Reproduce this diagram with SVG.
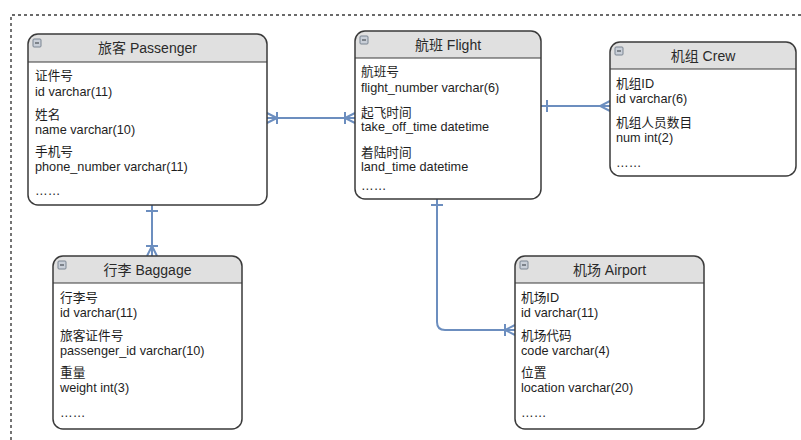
<svg xmlns="http://www.w3.org/2000/svg" width="801" height="440" viewBox="0 0 801 440">
  <style>
    .frame { fill: none; stroke: #3a3a3a; stroke-width: 1.5; }
    .body { fill: #ffffff; }
    .head { fill: #e0e0e0; }
    .sep { stroke: #3a3a3a; stroke-width: 1.2; }
    .title { font-family: "Liberation Sans", "Noto Sans CJK SC", sans-serif; font-size: 14px; fill: #2a2a2a; text-anchor: middle; }
    .attr { font-family: "Liberation Sans", "Noto Sans CJK SC", sans-serif; font-size: 12.7px; fill: #1e1e1e; }
    .link { fill: none; stroke: #6c8ebf; stroke-width: 2; }
    .tip { fill: none; stroke: #6c8ebf; stroke-width: 2; }
    .border { fill: none; stroke: #3a3a3a; stroke-width: 1.4; stroke-dasharray: 3 3; }
  </style>
  <defs>
    <!-- collapse button shown in each table header -->
    <g id="collapse">
      <rect x="0" y="0" width="8" height="8" rx="1" fill="#c9cfd8" stroke="#7b8592" stroke-width="1"/>
      <line x1="2" y1="4" x2="6" y2="4" stroke="#4a4f57" stroke-width="1.2"/>
    </g>
    <!-- ER end markers -->
    <marker id="one" viewBox="-12 -8 14 16" markerWidth="14" markerHeight="16" refX="0" refY="0" orient="auto-start-reverse" markerUnits="userSpaceOnUse">
      <path class="tip" d="M-6,-6 V6"/>
    </marker>
    <marker id="many" viewBox="-12 -8 14 16" markerWidth="14" markerHeight="16" refX="0" refY="0" orient="auto-start-reverse" markerUnits="userSpaceOnUse">
      <path class="tip" d="M0,-5 L-10,0 L0,5"/>
    </marker>
    <marker id="oneMany" viewBox="-14 -8 16 16" markerWidth="16" markerHeight="16" refX="0" refY="0" orient="auto-start-reverse" markerUnits="userSpaceOnUse">
      <path class="tip" d="M0,-5 L-10,0 L0,5 M-10,-6 V6"/>
    </marker>
  </defs>

  <!-- dashed boundary -->
  <path class="border" d="M11,440 V15 H801"/>

  <!-- relationships -->
  <g id="connectors">
    <path class="link" d="M267,118 H355" marker-start="url(#oneMany)" marker-end="url(#oneMany)"/>
    <path class="link" d="M541,106 H610" marker-start="url(#one)" marker-end="url(#many)"/>
    <path class="link" d="M152,205 V256" marker-start="url(#one)" marker-end="url(#oneMany)"/>
    <path class="link" d="M437,199 V322 Q437,330 445,330 H515" marker-start="url(#one)" marker-end="url(#oneMany)"/>
  </g>

  <g id="passenger">
    <rect class="body" x="28" y="34" width="239" height="171" rx="10"/>
    <path class="head" d="M28,62 V44 A10,10 0 0 1 38,34 H257 A10,10 0 0 1 267,44 V62 Z"/>
    <line class="sep" x1="28" y1="62" x2="267" y2="62"/>
    <rect class="frame" x="28" y="34" width="239" height="171" rx="10"/>
    <use href="#collapse" x="33" y="39"/>
    <text class="title" x="147.5" y="53">旅客 Passenger</text>
    <text class="attr" x="35" y="80">证件号</text>
    <text class="attr" x="35" y="96">id varchar(11)</text>
    <text class="attr" x="35" y="119">姓名</text>
    <text class="attr" x="35" y="134">name varchar(10)</text>
    <text class="attr" x="35" y="156">手机号</text>
    <text class="attr" x="35" y="171">phone_number varchar(11)</text>
    <text class="attr" x="35" y="195">……</text>
  </g>

  <g id="flight">
    <rect class="body" x="355" y="31" width="186" height="168" rx="10"/>
    <path class="head" d="M355,58 V41 A10,10 0 0 1 365,31 H531 A10,10 0 0 1 541,41 V58 Z"/>
    <line class="sep" x1="355" y1="58" x2="541" y2="58"/>
    <rect class="frame" x="355" y="31" width="186" height="168" rx="10"/>
    <use href="#collapse" x="360" y="36"/>
    <text class="title" x="448" y="50">航班 Flight</text>
    <text class="attr" x="361" y="76">航班号</text>
    <text class="attr" x="361" y="92">flight_number varchar(6)</text>
    <text class="attr" x="361" y="117">起飞时间</text>
    <text class="attr" x="361" y="131">take_off_time datetime</text>
    <text class="attr" x="361" y="157">着陆时间</text>
    <text class="attr" x="361" y="171">land_time datetime</text>
    <text class="attr" x="361" y="190">……</text>
  </g>

  <g id="crew">
    <rect class="body" x="610" y="42" width="186" height="134" rx="10"/>
    <path class="head" d="M610,69 V52 A10,10 0 0 1 620,42 H786 A10,10 0 0 1 796,52 V69 Z"/>
    <line class="sep" x1="610" y1="69" x2="796" y2="69"/>
    <rect class="frame" x="610" y="42" width="186" height="134" rx="10"/>
    <use href="#collapse" x="615" y="47"/>
    <text class="title" x="703" y="61">机组 Crew</text>
    <text class="attr" x="616" y="88">机组ID</text>
    <text class="attr" x="616" y="103">id varchar(6)</text>
    <text class="attr" x="616" y="127">机组人员数目</text>
    <text class="attr" x="616" y="142">num int(2)</text>
    <text class="attr" x="616" y="167">……</text>
  </g>

  <g id="baggage">
    <rect class="body" x="53" y="256" width="189" height="173" rx="10"/>
    <path class="head" d="M53,283 V266 A10,10 0 0 1 63,256 H232 A10,10 0 0 1 242,266 V283 Z"/>
    <line class="sep" x1="53" y1="283" x2="242" y2="283"/>
    <rect class="frame" x="53" y="256" width="189" height="173" rx="10"/>
    <use href="#collapse" x="58" y="261"/>
    <text class="title" x="147.5" y="275">行李 Baggage</text>
    <text class="attr" x="60" y="302">行李号</text>
    <text class="attr" x="60" y="317">id varchar(11)</text>
    <text class="attr" x="60" y="340">旅客证件号</text>
    <text class="attr" x="60" y="355">passenger_id varchar(10)</text>
    <text class="attr" x="60" y="377">重量</text>
    <text class="attr" x="60" y="392">weight int(3)</text>
    <text class="attr" x="60" y="417">……</text>
  </g>

  <g id="airport">
    <rect class="body" x="515" y="256" width="189" height="173" rx="10"/>
    <path class="head" d="M515,283 V266 A10,10 0 0 1 525,256 H694 A10,10 0 0 1 704,266 V283 Z"/>
    <line class="sep" x1="515" y1="283" x2="704" y2="283"/>
    <rect class="frame" x="515" y="256" width="189" height="173" rx="10"/>
    <use href="#collapse" x="520" y="261"/>
    <text class="title" x="609.5" y="275">机场 Airport</text>
    <text class="attr" x="521" y="302">机场ID</text>
    <text class="attr" x="521" y="317">id varchar(11)</text>
    <text class="attr" x="521" y="340">机场代码</text>
    <text class="attr" x="521" y="355">code varchar(4)</text>
    <text class="attr" x="521" y="377">位置</text>
    <text class="attr" x="521" y="392">location varchar(20)</text>
    <text class="attr" x="521" y="417">……</text>
  </g>
</svg>
